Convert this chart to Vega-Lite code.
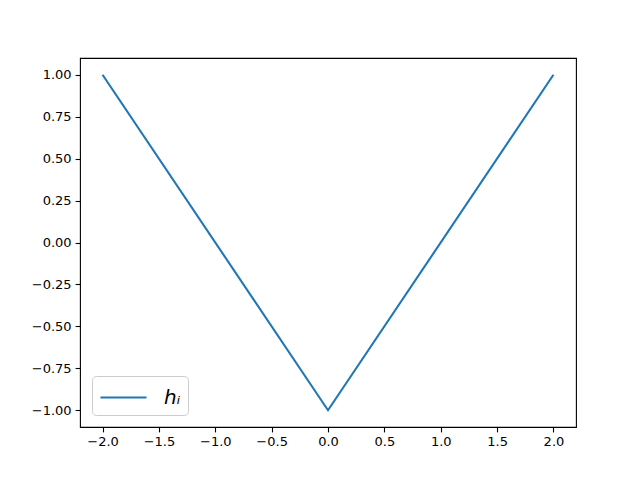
{
  "$schema": "https://vega.github.io/schema/vega-lite/v6.json",
  "width": 496,
  "height": 369,
  "autosize": "none",
  "padding": {"left": 80, "top": 58, "right": 64, "bottom": 53},
  "background": "white",
  "config": {
    "view": {"stroke": "black", "strokeWidth": 1.1},
    "font": "DejaVu Sans"
  },
  "data": {"values": [
    {"x": -2, "y": 1, "s": "hᵢ"},
    {"x": 0, "y": -1, "s": "hᵢ"},
    {"x": 2, "y": 1, "s": "hᵢ"}
  ]},
  "mark": {"type": "line", "strokeWidth": 2.1},
  "encoding": {
    "x": {
      "field": "x", "type": "quantitative",
      "scale": {"domain": [-2.2, 2.2], "nice": false, "zero": false},
      "axis": {
        "values": [-2, -1.5, -1, -0.5, 0, 0.5, 1, 1.5, 2],
        "format": ".1f",
        "labelExpr": "replace(datum.label, '-', '−')",
        "title": null, "grid": false, "domain": false,
        "tickColor": "black", "tickSize": 4.9, "tickWidth": 1.1,
        "labelFontSize": 13, "labelColor": "black", "labelPadding": 4,
        "labelFont": "DejaVu Sans"
      }
    },
    "y": {
      "field": "y", "type": "quantitative",
      "scale": {"domain": [-1.1, 1.1], "nice": false, "zero": false},
      "axis": {
        "values": [-1, -0.75, -0.5, -0.25, 0, 0.25, 0.5, 0.75, 1],
        "format": ".2f",
        "labelExpr": "replace(datum.label, '-', '−')",
        "title": null, "grid": false, "domain": false,
        "tickColor": "black", "tickSize": 4.9, "tickWidth": 1.1,
        "labelFontSize": 13, "labelColor": "black", "labelPadding": 4,
        "labelFont": "DejaVu Sans"
      }
    },
    "color": {
      "field": "s", "type": "nominal",
      "scale": {"range": ["#1f77b4"]},
      "legend": {
        "title": null,
        "orient": "none",
        "legendX": 12,
        "legendY": 318,
        "symbolType": "M-1,0L2.54,0",
        "symbolSize": 676,
        "symbolStrokeWidth": 2.1,
        "labelFontSize": 20,
        "labelFontStyle": "italic",
        "labelFont": "DejaVu Sans",
        "labelColor": "black",
        "labelOffset": 36,
        "padding": 7,
        "strokeColor": "#cccccc",
        "fillColor": "white",
        "cornerRadius": 4
      }
    }
  }
}
